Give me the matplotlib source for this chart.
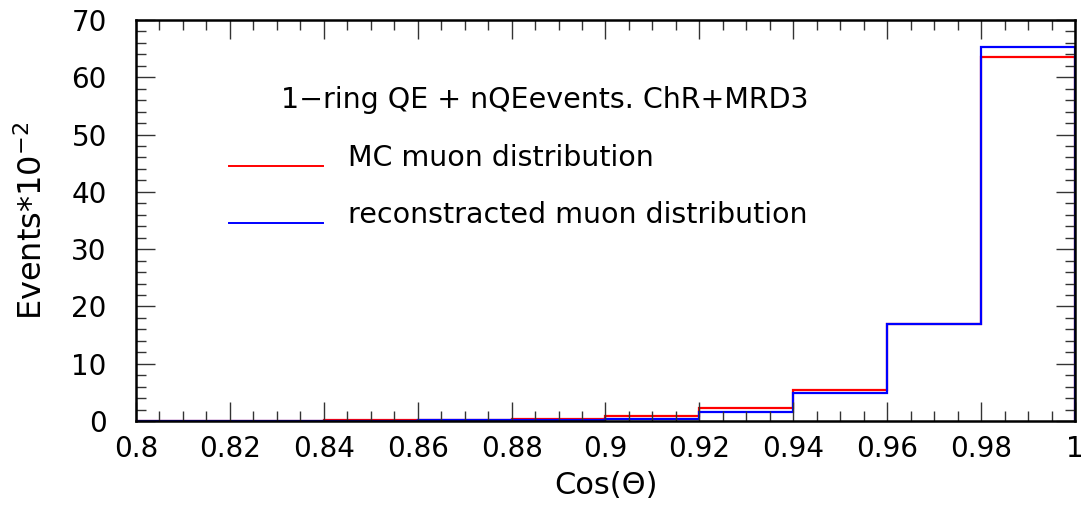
import matplotlib
matplotlib.use("Agg")
import matplotlib.pyplot as plt
import numpy as np
from matplotlib.ticker import MultipleLocator

# cos(theta) bin edges and contents (events * 1e-2)
bin_edges = [0.80, 0.82, 0.84, 0.86, 0.88, 0.90, 0.92, 0.94, 0.96, 0.98, 1.00]
mc_counts = [0.0, 0.0, 0.1, 0.15, 0.3, 0.9, 2.2, 5.4, 16.9, 63.6]
reco_counts = [0.0, 0.0, 0.05, 0.1, 0.15, 0.4, 1.5, 4.9, 16.9, 65.3]

x_tick_labels = ["0.8", "0.82", "0.84", "0.86", "0.88", "0.9",
                 "0.92", "0.94", "0.96", "0.98", "1"]

title_text = "1\u2212ring QE + nQEevents. ChR+MRD3"
mc_label = "MC muon distribution"
reco_label = "reconstracted muon distribution"

plt.rcParams['font.family'] = ['DejaVu Sans']

fig = plt.figure(figsize=(10.86, 5.12), dpi=100)
ax = fig.add_axes([136 / 1086, 1 - 421 / 512, (1075 - 136) / 1086, (421 - 20) / 512])

ax.stairs(mc_counts, bin_edges, color="red", linewidth=1.6)
ax.stairs(reco_counts, bin_edges, color="blue", linewidth=1.6)

ax.set_xlim(0.8, 1.0)
ax.set_ylim(0, 70)
ax.set_xticks(np.arange(0.8, 1.001, 0.02))
ax.set_xticklabels(x_tick_labels)
ax.xaxis.set_minor_locator(MultipleLocator(0.005))
ax.yaxis.set_major_locator(MultipleLocator(10))
ax.yaxis.set_minor_locator(MultipleLocator(2))

ax.tick_params(which="both", direction="in", top=True, right=True,
               labelsize=20, width=1.0, color="#333333")
ax.tick_params(which="major", length=14)
ax.tick_params(which="minor", length=7)
ax.tick_params(axis="x", which="major", pad=10)
ax.tick_params(axis="y", which="major", pad=21)
for spine in ax.spines.values():
    spine.set_linewidth(1.8)

ax.set_ylabel(r"Events$*$10$^{-2}$", fontsize=23, labelpad=16)
ax.set_xlabel("Cos(\u0398)", fontsize=22, labelpad=6)

# legend drawn by hand in data coordinates, text sits on the line level
ax.text(0.8309, 54.6, title_text, fontsize=20.5, va="baseline", ha="left")
ax.plot([0.8198, 0.8398], [44.5, 44.5], color="red", linewidth=1.4)
ax.text(0.8452, 44.6, mc_label, fontsize=20.5, va="baseline", ha="left")
ax.plot([0.8198, 0.8398], [34.6, 34.6], color="blue", linewidth=1.4)
ax.text(0.8452, 34.6, reco_label, fontsize=20.5, va="baseline", ha="left")

fig.savefig("out.png", dpi=100)
